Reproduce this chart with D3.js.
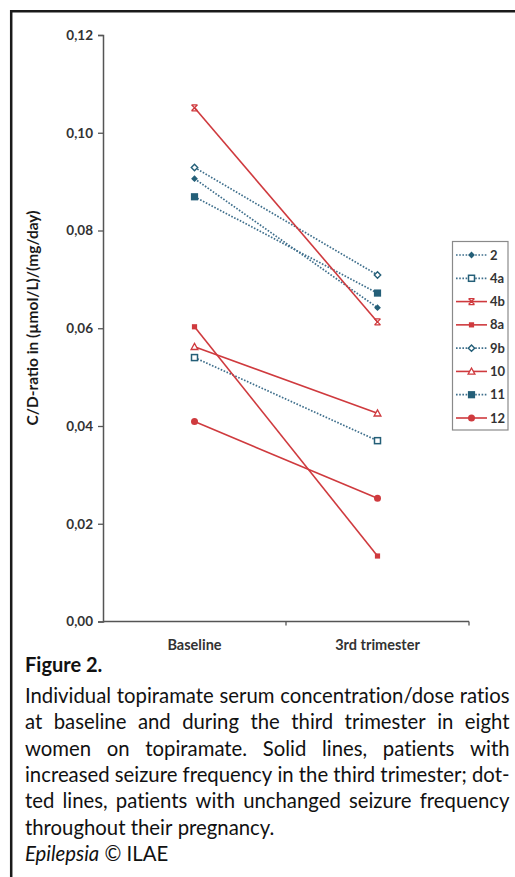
<!DOCTYPE html>
<html>
<head>
<meta charset="utf-8">
<script src="https://cdn.jsdelivr.net/npm/d3@7"></script>
<style>
  html, body { margin: 0; padding: 0; background: #fff; }
  svg { display: block; }
</style>
</head>
<body>
<svg id="chart" width="515" height="877"></svg>
<script>
// data
const patients = ["2", "4a", "4b", "8a", "9b", "10", "11", "12"];
const periods = ["Baseline", "3rd trimester"];
const baseline = [0.0906, 0.0540, 0.1051, 0.0603, 0.0929, 0.0562, 0.0869, 0.0409];
const thirdTrimester = [0.0642, 0.0370, 0.0613, 0.0134, 0.0709, 0.0426, 0.0672, 0.0252];
// true = increased seizure frequency (solid red line)
const increased = [false, false, true, true, false, true, false, true];
const yTicks = [0, 0.02, 0.04, 0.06, 0.08, 0.10, 0.12];

const captionTitle = "Figure 2.";
const captionLines = [
  "Individual topiramate serum concentration/dose ratios",
  "at baseline and during the third trimester in eight",
  "women on topiramate. Solid lines, patients with",
  "increased seizure frequency in the third trimester; dot-",
  "ted lines, patients with unchanged seizure frequency",
  "throughout their pregnancy."
];

const RED = "#cf3a3e";
const TEAL = "#245f78";
const markers = { "2": "diamondFill", "4a": "squareOpen", "4b": "cross", "8a": "squareFill",
                  "9b": "diamondOpen", "10": "triangleOpen", "11": "squareFillBig", "12": "circleFill" };

const svg = d3.select("#chart");
const font = "Lato, 'Open Sans', sans-serif";

// frame (left + top)
svg.append("path").attr("d", "M11.2,877 V11.2 H515")
  .attr("fill", "none").attr("stroke", "#1a1a1a").attr("stroke-width", 2.5);

const x = d3.scaleBand().domain(periods).range([103, 469]);
const y = d3.scaleLinear().domain([0, 0.12]).range([621.5, 35]);

// y axis
const yAxis = svg.append("g").attr("transform", "translate(103,0)")
  .call(d3.axisLeft(y).tickValues(yTicks).tickSize(5).tickPadding(5)
    .tickFormat(d => d3.format(".2f")(d).replace(".", ",")));
yAxis.select(".domain").attr("stroke", "#555").attr("stroke-width", 1.5);
yAxis.selectAll(".tick line").attr("stroke", "#555").attr("stroke-width", 1.3);
yAxis.selectAll("text").attr("fill", "#333").style("font", `bold 13.5px ${font}`);

// x axis: labels at band centres, tick marks at band edges
const xAxis = svg.append("g").attr("transform", "translate(0,621.5)")
  .call(d3.axisBottom(x).tickSize(0).tickPadding(18));
xAxis.select(".domain").attr("stroke", "#555").attr("stroke-width", 1.5).attr("d", `M${x.range()[0]},0H${x.range()[1]}`);
xAxis.selectAll("text").attr("fill", "#333").style("font", `bold 14.5px ${font}`);
xAxis.selectAll(".edge").data(periods.slice(1).map(p => x(p)).concat([x.range()[1]]))
  .enter().append("line").attr("class", "edge")
  .attr("x1", d => d).attr("x2", d => d).attr("y1", 0).attr("y2", 4)
  .attr("stroke", "#555").attr("stroke-width", 1.3);

// y title
svg.append("text")
  .attr("transform", "translate(38,318) rotate(-90)")
  .attr("text-anchor", "middle")
  .attr("fill", "#1a1a1a")
  .style("font", `bold 15.5px ${font}`)
  .text("C/D-ratio in (\u00b5mol/L)/(mg/day)");

function drawMarker(g, type, color) {
  switch (type) {
    case "diamondFill":
      g.append("path").attr("d", "M0,-3.4L3.4,0L0,3.4L-3.4,0Z").attr("fill", color); break;
    case "diamondOpen":
      g.append("path").attr("d", "M0,-3.2L3.2,0L0,3.2L-3.2,0Z").attr("fill", "#fff").attr("stroke", color).attr("stroke-width", 1.4); break;
    case "squareOpen":
      g.append("rect").attr("x", -3).attr("y", -3).attr("width", 6).attr("height", 6)
        .attr("fill", "#fff").attr("stroke", color).attr("stroke-width", 1.5); break;
    case "squareFill":
      g.append("rect").attr("x", -2.6).attr("y", -2.6).attr("width", 5.2).attr("height", 5.2).attr("fill", color); break;
    case "squareFillBig":
      g.append("rect").attr("x", -3.6).attr("y", -3.6).attr("width", 7.2).attr("height", 7.2).attr("fill", color); break;
    case "cross":
      g.append("path").attr("d", "M-3,-3L3,3M3,-3L-3,3M-3,-3H3M-3,3H3").attr("stroke", color).attr("stroke-width", 1.3).attr("fill", "none"); break;
    case "triangleOpen":
      g.append("path").attr("d", "M0,-3.4L3.4,2.7H-3.4Z").attr("fill", "#fff").attr("stroke", color).attr("stroke-width", 1.3); break;
    case "circleFill":
      g.append("circle").attr("r", 3.5).attr("fill", color); break;
  }
}

const series = patients.map((p, i) => ({
  id: p, solid: increased[i],
  values: [baseline[i], thirdTrimester[i]]
}));

const lineGen = d3.line().x((d, i) => x(periods[i]) + x.bandwidth() / 2).y(d => y(d));

const plot = svg.append("g");
// dotted series first, solid on top
series.slice().sort((a, b) => a.solid - b.solid).forEach(s => {
  const color = s.solid ? RED : TEAL;
  plot.append("path").datum(s.values)
    .attr("d", lineGen).attr("fill", "none")
    .attr("stroke", s.solid ? RED : "#3f6f8c")
    .attr("stroke-width", s.solid ? 1.6 : 1.7)
    .attr("stroke-dasharray", s.solid ? null : "1.6,1.6");
  s.values.forEach((v, i) => {
    const g = plot.append("g").attr("transform", `translate(${x(periods[i]) + x.bandwidth() / 2},${y(v)})`);
    drawMarker(g, markers[s.id], color);
  });
});

// legend
const legend = svg.append("g");
legend.append("rect").attr("x", 452.5).attr("y", 241.5).attr("width", 55.5).attr("height", 188.5)
  .attr("fill", "#fff").attr("stroke", "#8a8a8a").attr("stroke-width", 1.2);
const ly = d3.scalePoint().domain(patients).range([255, 418]);
series.forEach(s => {
  const color = s.solid ? RED : TEAL;
  const g = legend.append("g").attr("transform", `translate(0,${ly(s.id)})`);
  g.append("line").attr("x1", 456).attr("x2", 487).attr("y1", 0).attr("y2", 0)
    .attr("stroke", s.solid ? RED : "#3f6f8c").attr("stroke-width", s.solid ? 1.6 : 1.7)
    .attr("stroke-dasharray", s.solid ? null : "1.6,1.6");
  drawMarker(g.append("g").attr("transform", "translate(471.5,0)"), markers[s.id], color);
  g.append("text").attr("x", 490).attr("y", 4.5).attr("fill", "#333")
    .style("font", `bold 13px ${font}`).text(s.id);
});

// caption
svg.append("text").attr("x", 25).attr("y", 672).attr("fill", "#111")
  .style("font", `bold 20px ${font}`).text(captionTitle);

const left = 25, right = 509.5;
// size the caption so that the first line fills the column with normal spacing
const probe = svg.append("text").style("font", `16px ${font}`).style("font-variant-ligatures", "none").text(captionLines[0]);
const capSize = 16 * (right - left - 2) / probe.node().getComputedTextLength();
probe.remove();
const capFont = `${capSize.toFixed(2)}px ${font}`;

captionLines.forEach((line, li) => {
  const yy = 703 + li * 26.3;
  const words = line.split(" ");
  const last = li === captionLines.length - 1;
  const t = svg.append("g");
  const nodes = words.map(w => t.append("text").attr("y", yy).attr("fill", "#111")
    .style("font", capFont).style("font-variant-ligatures", "none").text(w));
  const widths = nodes.map(n => n.node().getComputedTextLength());
  const total = d3.sum(widths);
  const gap = last ? capSize * 0.26 : (right - left - total) / (words.length - 1);
  let cx = left;
  nodes.forEach((n, i) => { n.attr("x", cx); cx += widths[i] + gap; });
});

const src = svg.append("text").attr("x", 25).attr("y", 861).attr("fill", "#111").style("font", capFont);
src.append("tspan").style("font-style", "italic").text("Epilepsia");
src.append("tspan").text(" \u00a9 ILAE");
</script>
</body>
</html>
